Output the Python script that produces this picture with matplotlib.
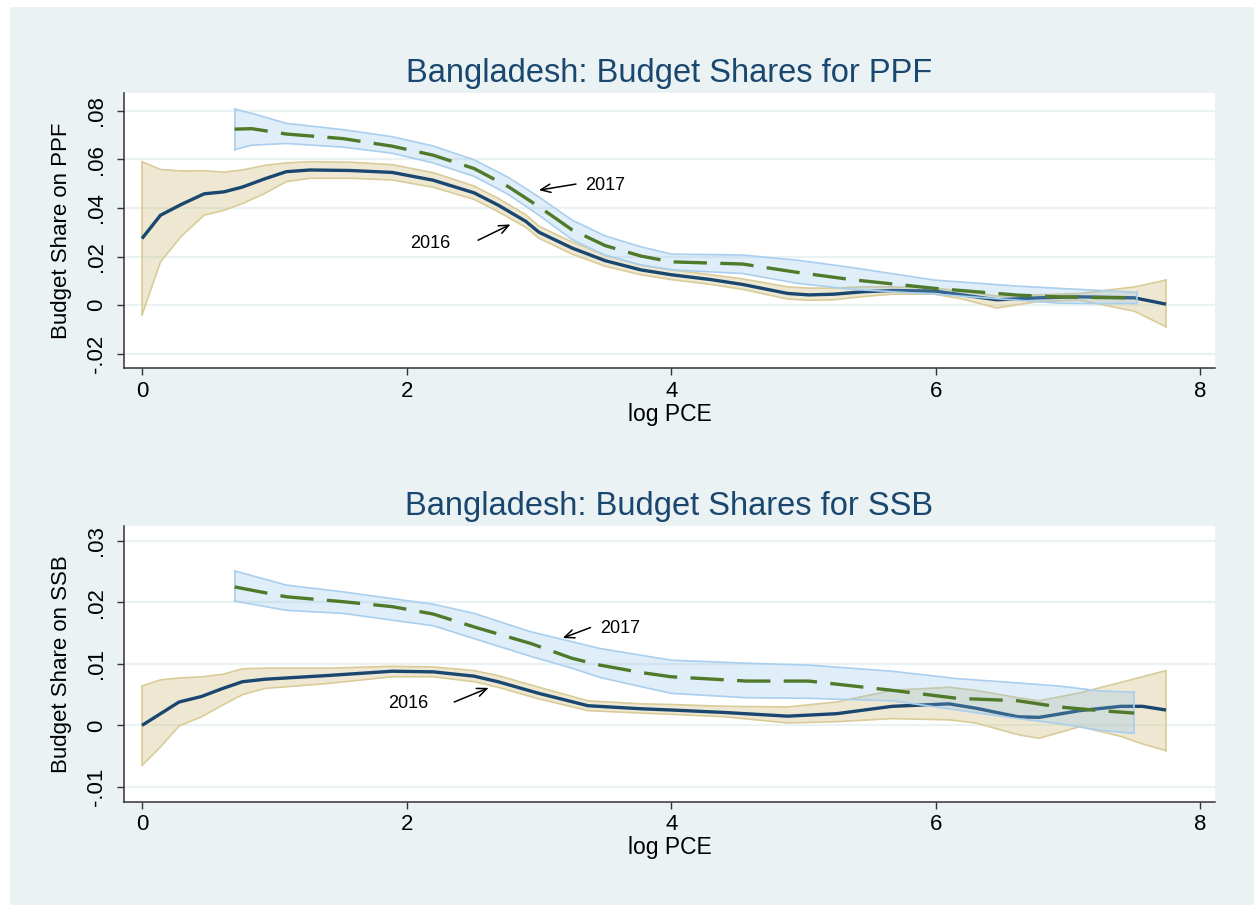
import matplotlib
matplotlib.use("Agg")
import matplotlib.pyplot as plt
from matplotlib.patches import Rectangle

plt.rcParams['font.family'] = ['Liberation Sans', 'DejaVu Sans']

# ===== data: PPF =====
x_ppf16 = [0, 0.14, 0.3, 0.47, 0.62, 0.76, 0.93, 1.09, 1.27, 1.57, 1.89, 2.2, 2.51, 2.69, 2.9, 3.0,
           3.25, 3.5, 3.77, 4.0, 4.3, 4.54, 4.88, 5.04, 5.23, 5.45, 5.67, 5.99, 6.2, 6.46, 6.78,
           7.09, 7.5, 7.74]
y_ppf16 = [0.0274, 0.037, 0.0415, 0.0458, 0.0466, 0.0486, 0.052, 0.0549, 0.0556, 0.0554, 0.0546,
           0.0514, 0.0462, 0.0412, 0.0345, 0.030, 0.0235, 0.0183, 0.0145, 0.0125, 0.0105, 0.0085,
           0.0048, 0.0042, 0.0045, 0.0055, 0.006, 0.0058, 0.0042, 0.0022, 0.003, 0.0034, 0.003, 0.0004]
hi_ppf16 = [0.059, 0.0558, 0.0552, 0.0553, 0.0547, 0.0556, 0.0575, 0.0585, 0.059, 0.0588, 0.0578,
            0.0545, 0.049, 0.044, 0.0372, 0.0325, 0.026, 0.0205, 0.0165, 0.0145, 0.0125, 0.0108,
            0.0075, 0.007, 0.007, 0.0075, 0.0075, 0.007, 0.0058, 0.0037, 0.0042, 0.0048, 0.0075, 0.0103]
lo_ppf16 = [-0.0041, 0.0178, 0.0285, 0.037, 0.039, 0.0418, 0.046, 0.0508, 0.0522, 0.0522, 0.0515,
            0.0485, 0.0435, 0.0385, 0.032, 0.0275, 0.021, 0.016, 0.0125, 0.0105, 0.0085, 0.0065,
            0.0025, 0.002, 0.0022, 0.0035, 0.0045, 0.0045, 0.0025, -0.0012, 0.0015, 0.002, -0.0025, -0.0089]

x_ppf17 = [0.70, 0.83, 1.09, 1.52, 1.89, 2.2, 2.51, 2.77, 3.0, 3.25, 3.5, 3.77, 4.0, 4.54, 4.95,
           5.36, 5.99, 6.62, 6.93, 7.25, 7.52]
y_ppf17 = [0.0724, 0.0726, 0.0704, 0.0685, 0.0654, 0.0617, 0.0562, 0.0487, 0.0405, 0.031, 0.0245,
           0.0202, 0.0178, 0.0169, 0.0135, 0.0105, 0.0069, 0.0041, 0.0034, 0.0031, 0.003]
hi_ppf17 = [0.0807, 0.0789, 0.0748, 0.0722, 0.0693, 0.0655, 0.0598, 0.0525, 0.0445, 0.035, 0.0285,
            0.024, 0.021, 0.0206, 0.0185, 0.0155, 0.0103, 0.0078, 0.0069, 0.006, 0.0052]
lo_ppf17 = [0.064, 0.0658, 0.0665, 0.065, 0.0625, 0.0585, 0.053, 0.0455, 0.037, 0.027, 0.0205,
            0.0165, 0.0145, 0.013, 0.009, 0.0065, 0.0045, 0.002, 0.0008, 0.0006, 0.0007]

# ===== data: SSB =====
x_ssb16 = [0, 0.14, 0.28, 0.45, 0.61, 0.76, 0.93, 1.4, 1.89, 2.2, 2.51, 2.69, 3.0, 3.37, 3.77, 4.0,
           4.4, 4.88, 5.25, 5.67, 6.1, 6.3, 6.62, 6.78, 7.09, 7.4, 7.56, 7.74]
y_ssb16 = [0.0, 0.0019, 0.0038, 0.0047, 0.006, 0.0071, 0.0075, 0.0081, 0.0088, 0.0087, 0.008, 0.0071,
           0.0052, 0.0032, 0.0027, 0.0025, 0.0021, 0.0015, 0.0019, 0.0031, 0.0035, 0.0028, 0.0014,
           0.0013, 0.0024, 0.0031, 0.0031, 0.0025]
hi_ssb16 = [0.0064, 0.0074, 0.0077, 0.0079, 0.0083, 0.0092, 0.0093, 0.0093, 0.0096, 0.0095, 0.0089,
            0.0081, 0.0062, 0.004, 0.0035, 0.0034, 0.0031, 0.003, 0.0038, 0.0057, 0.0062, 0.0057,
            0.0045, 0.004, 0.0053, 0.007, 0.0079, 0.0089]
lo_ssb16 = [-0.0065, -0.0035, -0.0001, 0.0014, 0.0033, 0.005, 0.006, 0.0068, 0.0079, 0.0079, 0.0071,
            0.0062, 0.0043, 0.0024, 0.002, 0.0018, 0.0014, 0.0004, 0.0006, 0.0011, 0.0009, 0.0004,
            -0.0015, -0.0021, -0.0002, -0.0018, -0.003, -0.0041]

x_ssb17 = [0.70, 1.09, 1.52, 1.89, 2.2, 2.51, 2.94, 3.25, 3.46, 3.77, 4.0, 4.57, 5.04, 5.67, 6.16,
           6.62, 6.93, 7.24, 7.5]
y_ssb17 = [0.0225, 0.0209, 0.0201, 0.0193, 0.0181, 0.016, 0.0133, 0.0109, 0.0098, 0.0086, 0.0079,
           0.0072, 0.0072, 0.0057, 0.0044, 0.004, 0.003, 0.0024, 0.002]
hi_ssb17 = [0.0251, 0.0228, 0.0217, 0.0206, 0.0197, 0.0182, 0.0152, 0.0136, 0.0125, 0.0114, 0.0106,
            0.0101, 0.0098, 0.0088, 0.0076, 0.0069, 0.0064, 0.0056, 0.0054]
lo_ssb17 = [0.0202, 0.0187, 0.0182, 0.0171, 0.0162, 0.0141, 0.0112, 0.0093, 0.0078, 0.0063, 0.0052,
            0.0045, 0.0044, 0.004, 0.0025, 0.0011, 0.0003, -0.0008, -0.0013]

x_ticks = [0, 2, 4, 6, 8]
ppf_ticks = [-0.02, 0, 0.02, 0.04, 0.06, 0.08]
ppf_labels = ['-.02', '0', '.02', '.04', '.06', '.08']
ssb_ticks = [-0.01, 0, 0.01, 0.02, 0.03]
ssb_labels = ['-.01', '0', '.01', '.02', '.03']

# ===== colours =====
BG = '#EAF2F3'
NAVY = '#1A476F'
GREEN = '#4F7A2A'
TAN_FILL = '#C8B56E'
TAN_EDGE = '#D9CC98'
BLUE_FILL = '#86BDEB'
BLUE_EDGE = '#AACFEE'

W, H = 1254, 905
fig = plt.figure(figsize=(W / 100, H / 100), dpi=100)
fig.patch.set_facecolor('white')
fig.add_artist(Rectangle((10 / W, 0), 1, 1 - 7 / H, transform=fig.transFigure,
                         facecolor=BG, edgecolor='none', zorder=0))


def panel(rect, x16, y16, lo16, hi16, x17, y17, lo17, hi17, yticks, ylabels, ylim,
          title, ylabel, notes):
    ax = fig.add_axes(rect)
    ax.set_facecolor('white')
    ax.fill_between(x16, lo16, hi16, facecolor=TAN_FILL, alpha=0.3, edgecolor='none', zorder=2)
    ax.plot(x16, lo16, color=TAN_EDGE, lw=1.2, zorder=2)
    ax.plot(x16, hi16, color=TAN_EDGE, lw=1.2, zorder=2)
    ax.plot([x16[-1], x16[-1]], [lo16[-1], hi16[-1]], color=TAN_EDGE, lw=1.2, zorder=2)
    ax.plot([x16[0], x16[0]], [lo16[0], hi16[0]], color=TAN_EDGE, lw=1.2, zorder=2)
    ax.plot(x16, y16, color=NAVY, lw=2.4, zorder=3, solid_capstyle='butt')
    ax.fill_between(x17, lo17, hi17, facecolor=BLUE_FILL, alpha=0.25, edgecolor='none', zorder=4)
    ax.plot(x17, lo17, color=BLUE_EDGE, lw=1.2, zorder=4)
    ax.plot(x17, hi17, color=BLUE_EDGE, lw=1.2, zorder=4)
    ax.plot([x17[-1], x17[-1]], [lo17[-1], hi17[-1]], color=BLUE_EDGE, lw=1.2, zorder=4)
    ax.plot([x17[0], x17[0]], [lo17[0], hi17[0]], color=BLUE_EDGE, lw=1.2, zorder=4)
    ax.plot(x17, y17, color=GREEN, lw=2.4, dashes=(10, 4), zorder=5)

    ax.set_xlim(-0.136, 8.11)
    ax.set_ylim(*ylim)
    ax.set_xticks(x_ticks)
    ax.set_yticks(yticks)
    ax.set_yticklabels(ylabels, rotation=90, va='center')
    ax.grid(axis='y', color=BG, lw=1.6, zorder=1)
    ax.set_axisbelow(True)
    for s in ['top', 'right']:
        ax.spines[s].set_visible(False)
    for s in ['left', 'bottom']:
        ax.spines[s].set_color('#333333')
        ax.spines[s].set_linewidth(1.1)
    ax.tick_params(axis='both', direction='out', length=5, width=1, color='#333333',
                   labelsize=16, labelcolor='black')
    ax.tick_params(axis='y', pad=7)
    ax.tick_params(axis='x', pad=4)
    ax.set_title(title, fontsize=23.5, color=NAVY, pad=8)
    ax.set_ylabel(ylabel, fontsize=16)
    ax.yaxis.set_label_coords(-0.0477, 0.5)
    ax.set_xlabel('log PCE', fontsize=16.5)
    ax.xaxis.set_label_coords(0.5, -0.125)

    for txt, tx, ty, ha, tail, head in notes:
        ax.text(tx, ty, txt, fontsize=13, ha=ha, va='center', zorder=6)
        ax.annotate('', xy=head, xytext=tail, zorder=6,
                    arrowprops=dict(arrowstyle='->,head_length=0.7,head_width=0.3',
                                    lw=1.1, color='black', shrinkA=0, shrinkB=0))
    return ax


left = 124 / W
width = (1215 - 124) / W
panel([left, 1 - 368.3 / H, width, (368.3 - 92.7) / H],
      x_ppf16, y_ppf16, lo_ppf16, hi_ppf16, x_ppf17, y_ppf17, lo_ppf17, hi_ppf17,
      ppf_ticks, ppf_labels, (-0.026, 0.0874),
      'Bangladesh: Budget Shares for PPF', 'Budget Share on PPF',
      [('2017', 3.35, 0.0494, 'left', (3.28, 0.0498), (3.0, 0.0473)),
       ('2016', 2.18, 0.0254, 'center', (2.54, 0.0267), (2.785, 0.0332))])

panel([left, 1 - 801.7 / H, width, (801.7 - 526) / H],
      x_ssb16, y_ssb16, lo_ssb16, hi_ssb16, x_ssb17, y_ssb17, lo_ssb17, hi_ssb17,
      ssb_ticks, ssb_labels, (-0.0124, 0.0324),
      'Bangladesh: Budget Shares for SSB', 'Budget Share on SSB',
      [('2017', 3.46, 0.0158, 'left', (3.39, 0.0159), (3.18, 0.0142)),
       ('2016', 2.01, 0.0036, 'center', (2.36, 0.0038), (2.62, 0.0061))])

fig.savefig('out.png', dpi=100, facecolor=fig.get_facecolor())
